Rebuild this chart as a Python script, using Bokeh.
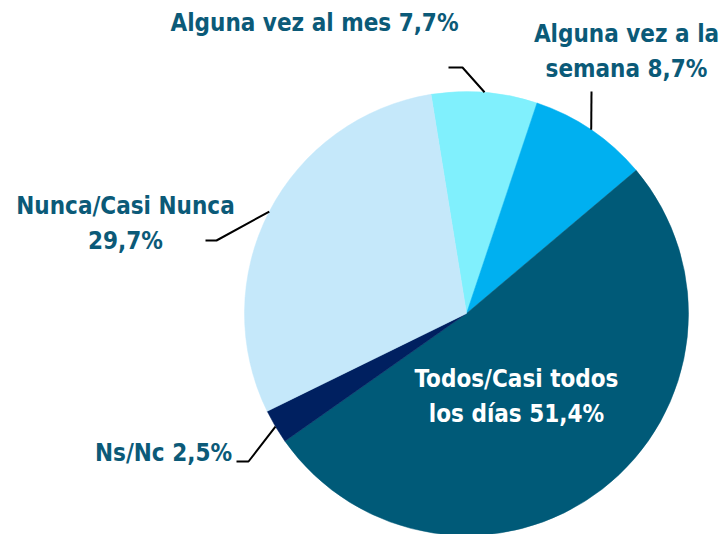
import math
from bokeh.plotting import figure
from bokeh.models import Range1d, ColumnDataSource
from bokeh.core.properties import value
from bokeh.embed import file_html
from bokeh.resources import INLINE

# ---- data ----
categories = ["Alguna vez al mes", "Alguna vez a la semana", "Todos/Casi todos los días", "Ns/Nc", "Nunca/Casi Nunca"]
values = [7.7, 8.7, 51.4, 2.5, 29.7]
colors = ["#80F0FD", "#00B0F0", "#005A78", "#002060", "#C5E8FA"]
label_lines = [
    ["Alguna vez al mes 7,7%"],
    ["Alguna vez a la", "semana 8,7%"],
    ["Todos/Casi todos", "los días 51,4%"],
    ["Ns/Nc 2,5%"],
    ["Nunca/Casi Nunca", "29,7%"],
]

# ---- layout (data units = pixels, y measured up from bottom) ----
W, H = 723, 534
cx, cy, R = 466, 221, 222
start_offset = -9.2  # degrees clockwise from top where the first slice begins
TEXT_COLOR = "#0B5A78"
FONT = "DejaVu Sans Condensed"
FS = "24px"

label_pos = [(314, 512), (626, 501), (516, 156), (163, 82), (125, 329)]
line_gap = 35
text_colors = [TEXT_COLOR, TEXT_COLOR, "white", TEXT_COLOR, TEXT_COLOR]
# leader lines: (end x, end y, elbow x, elbow y) or None
leaders = [(448, 467, 462, 467), (591, 443, 591, 443), None, (236, 73, 248, 73), (205, 294, 216, 294)]

p = figure(width=W, height=H, output_backend="svg", toolbar_location=None,
           x_range=Range1d(0, W), y_range=Range1d(0, H), min_border=0)
p.axis.visible = False
p.grid.visible = False
p.outline_line_color = None
p.background_fill_color = "white"

total = sum(values)
starts, ends, mids = [], [], []
acc = start_offset
for v in values:
    t1 = acc
    t2 = acc + v / total * 360.0
    starts.append(math.radians(90 - t2))
    ends.append(math.radians(90 - t1))
    mids.append((t1 + t2) / 2)
    acc = t2

src = ColumnDataSource(dict(start=starts, end=ends, color=colors, cat=categories, val=values))
p.wedge(x=cx, y=cy, radius=R, start_angle="start", end_angle="end",
        fill_color="color", line_color="color", line_width=0.5, source=src)

for i, ld in enumerate(leaders):
    if ld is None:
        continue
    th = math.radians(mids[i])
    ex, ey = cx + R * math.sin(th), cy + R * math.cos(th)
    p.line([ld[0], ld[2], ex], [ld[1], ld[3], ey], line_color="black", line_width=2)

tx, ty, tt, tc = [], [], [], []
for i, lines in enumerate(label_lines):
    x0, y0 = label_pos[i]
    for j, s in enumerate(lines):
        tx.append(x0)
        ty.append(y0 - j * line_gap)
        tt.append(s)
        tc.append(text_colors[i])
p.text(x=tx, y=ty, text=tt, text_color=tc, text_font=value(FONT), text_font_size=FS,
       text_font_style="bold", text_align="center", text_baseline="middle")

open("out.html", "w").write(file_html(p, INLINE))
